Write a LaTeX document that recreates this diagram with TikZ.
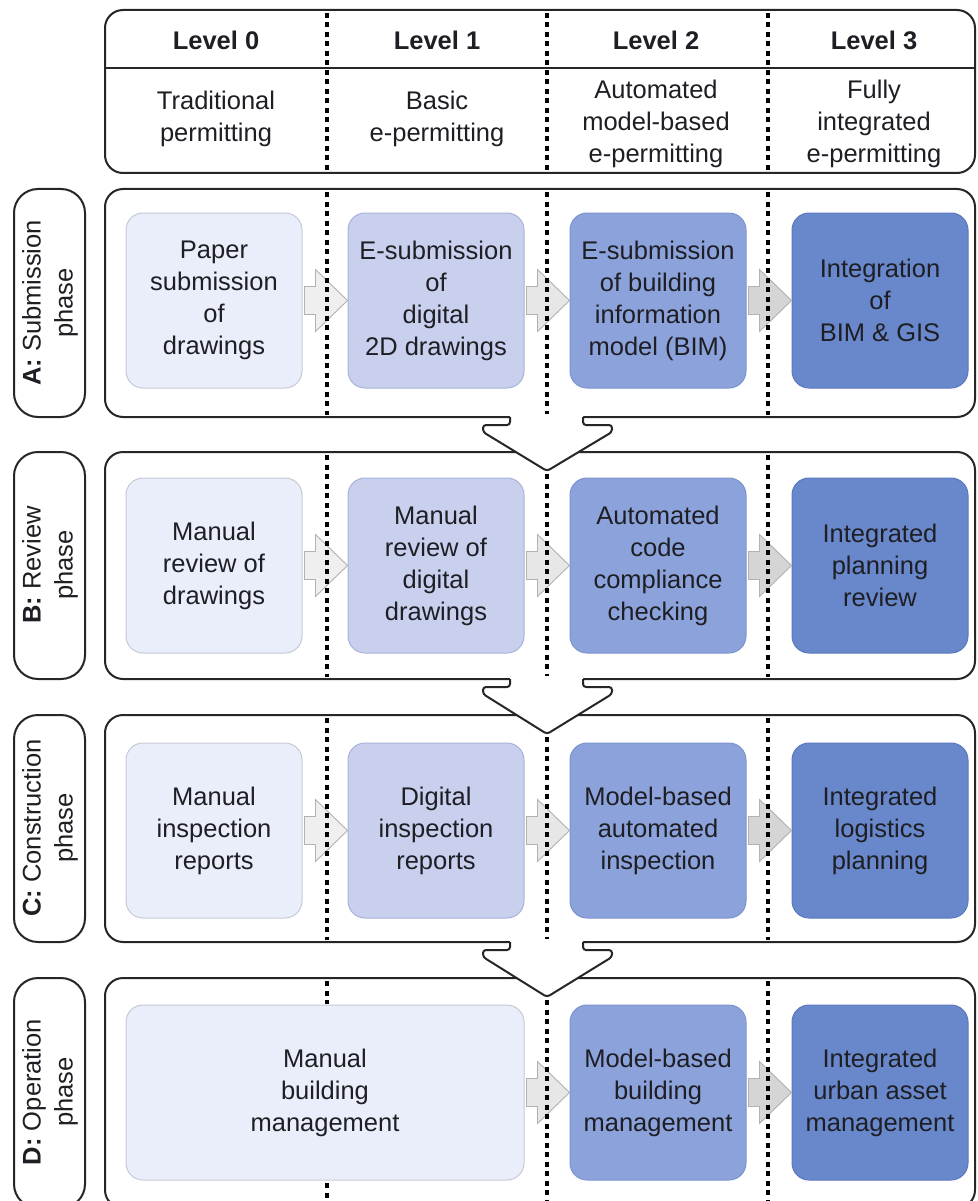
\documentclass[tikz,border=0pt]{standalone}
\usepackage{fontspec}
\setmainfont{Liberation Sans}
\usetikzlibrary{calc}
\definecolor{lv0}{HTML}{EAEEFA}
\definecolor{lv1}{HTML}{C8D0EE}
\definecolor{lv2}{HTML}{8BA2DB}
\definecolor{lv3}{HTML}{6888CB}
\definecolor{bd0}{HTML}{C6CAD6}
\definecolor{bd1}{HTML}{A9B3D8}
\definecolor{bd2}{HTML}{7C93CC}
\definecolor{bd3}{HTML}{5C79BD}
\definecolor{txt}{HTML}{1E1E24}
\definecolor{ga}{HTML}{EFEFEF}
\definecolor{gb}{HTML}{E7E7E7}
\definecolor{gc}{HTML}{D5D5D5}
\definecolor{gbd}{HTML}{B2B2B2}
\definecolor{frm}{HTML}{262626}
\newcommand\garrow[2]{\draw[draw=gbd, fill=#2, line width=0.9pt, shift={(#1.west)}] (0,0) -- (-32,-31) -- (-32,-14) -- (-43,-14) -- (-43,14) -- (-32,14) -- (-32,31) -- cycle;}
\newcommand\darrow[2]{%
  \fill[white] (510,#1-3) -- (510,#1+8) -- (483,#1+8) -- (483,#1+15) -- (547,#2+19) -- (612,#1+15) -- (612,#1+8) -- (583,#1+8) -- (583,#1-3) -- cycle;
  \draw[frm, line width=2pt, rounded corners=3pt, line join=round] (510,#1) -- (510,#1+8) -- (483,#1+8) -- (483,#1+15) -- (547,#2+19) -- (612,#1+15) -- (612,#1+8) -- (583,#1+8) -- (583,#1);}
\begin{document}
\begin{tikzpicture}[x=1pt,y=-1pt,
  every node/.style={text=txt, font=\fontsize{25.5}{32}\selectfont, inner sep=0pt, align=center},
  frame/.style={draw=frm, line width=2pt, rounded corners=18pt, fill=white},
  pill/.style={draw=frm, line width=2pt, rounded corners=24pt, fill=white},
  lvbox/.style={line width=1pt, rounded corners=17pt, minimum width=176pt, minimum height=175pt},
  b0/.style={lvbox, fill=lv0, draw=bd0},
  b1/.style={lvbox, fill=lv1, draw=bd1},
  b2/.style={lvbox, fill=lv2, draw=bd2},
  b3/.style={lvbox, fill=lv3, draw=bd3},
  dline/.style={draw=black, line width=3.6pt, dash pattern=on 5pt off 4.5pt},
  lvl/.style={font=\fontsize{25.5}{32}\selectfont\bfseries}
]
\useasboundingbox (0,0) rectangle (977,1201);

% header
\draw[frame] (105,10) rectangle (975,173);
\draw[frm, line width=2pt] (105,68) -- (975,68);
\node[lvl] (L0) at (216,40) {Level 0};
\node[lvl] (L1) at (437,40) {Level 1};
\node[lvl] (L2) at (656,40) {Level 2};
\node[lvl] (L3) at (874,40) {Level 3};
\node (S0) at (216,119) {Traditional\\permitting};
\node (S1) at (437,119) {Basic\\e-permitting};
\node (S2) at (656,124) {Automated\\model-based\\e-permitting};
\node (S3) at (874,124) {Fully\\integrated\\e-permitting};
\foreach \x in {327,547,768} \draw[dline] (\x,13) -- (\x,171);

% phase labels
\draw[pill] (14,189) rectangle (85,417);
\draw[pill] (14,452) rectangle (85,679);
\draw[pill] (14,715) rectangle (85,942);
\draw[pill] (14,978) rectangle (85,1208);
\node[rotate=90] (PA) at (50,303) {\textbf{A:} Submission\\phase};
\node[rotate=90] (PB) at (50,565) {\textbf{B:} Review\\phase};
\node[rotate=90] (PC) at (50,828) {\textbf{C:} Construction\\phase};
\node[rotate=90] (PD) at (50,1092) {\textbf{D:} Operation\\phase};

% panels
\draw[frame] (105,189) rectangle (975,417);
\draw[frame] (105,452) rectangle (975,679);
\draw[frame] (105,715) rectangle (975,942);
\draw[frame] (105,978) rectangle (975,1208);

% boxes row A
\node[b0] (a0) at (214,300.5) {Paper\\submission\\of\\drawings};
\node[b1] (a1) at (436,300.5) {E-submission\\of\\digital\\2D drawings};
\node[b2] (a2) at (658,300.5) {E-submission\\of building\\information\\model (BIM)};
\node[b3] (a3) at (880,300.5) {Integration\\of\\BIM \& GIS};
% row B
\node[b0] (b0) at (214,565.5) {Manual\\review of\\drawings};
\node[b1] (b1) at (436,565.5) {Manual\\review of\\digital\\drawings};
\node[b2] (b2) at (658,565.5) {Automated\\code\\compliance\\checking};
\node[b3] (b3) at (880,565.5) {Integrated\\planning\\review};
% row C
\node[b0] (c0) at (214,830.5) {Manual\\inspection\\reports};
\node[b1] (c1) at (436,830.5) {Digital\\inspection\\reports};
\node[b2] (c2) at (658,830.5) {Model-based\\automated\\inspection};
\node[b3] (c3) at (880,830.5) {Integrated\\logistics\\planning};
% row D
\node[b0, minimum width=398pt] (d0) at (325,1092.5) {Manual\\building\\management};
\node[b2] (d2) at (658,1092.5) {Model-based\\building\\management};
\node[b3] (d3) at (880,1092.5) {Integrated\\urban asset\\management};

% grey block arrows
\garrow{a1}{ga} \garrow{a2}{gb} \garrow{a3}{gc}
\garrow{b1}{ga} \garrow{b2}{gb} \garrow{b3}{gc}
\garrow{c1}{ga} \garrow{c2}{gb} \garrow{c3}{gc}
\garrow{d2}{gb} \garrow{d3}{gc}

% dashed level dividers in panels
\foreach \t/\b in {192/415, 455/677, 718/940} {
  \foreach \x in {327,547,768} \draw[dline] (\x,\t) -- (\x,\b);
}
\draw[dline] (327,981) -- (327,1004);
\draw[dline] (327,1183) -- (327,1206);
\foreach \x in {547,768} \draw[dline] (\x,981) -- (\x,1206);

% down arrows between phases
\darrow{417}{452}
\darrow{679}{715}
\darrow{942}{978}
\end{tikzpicture}
\end{document}
